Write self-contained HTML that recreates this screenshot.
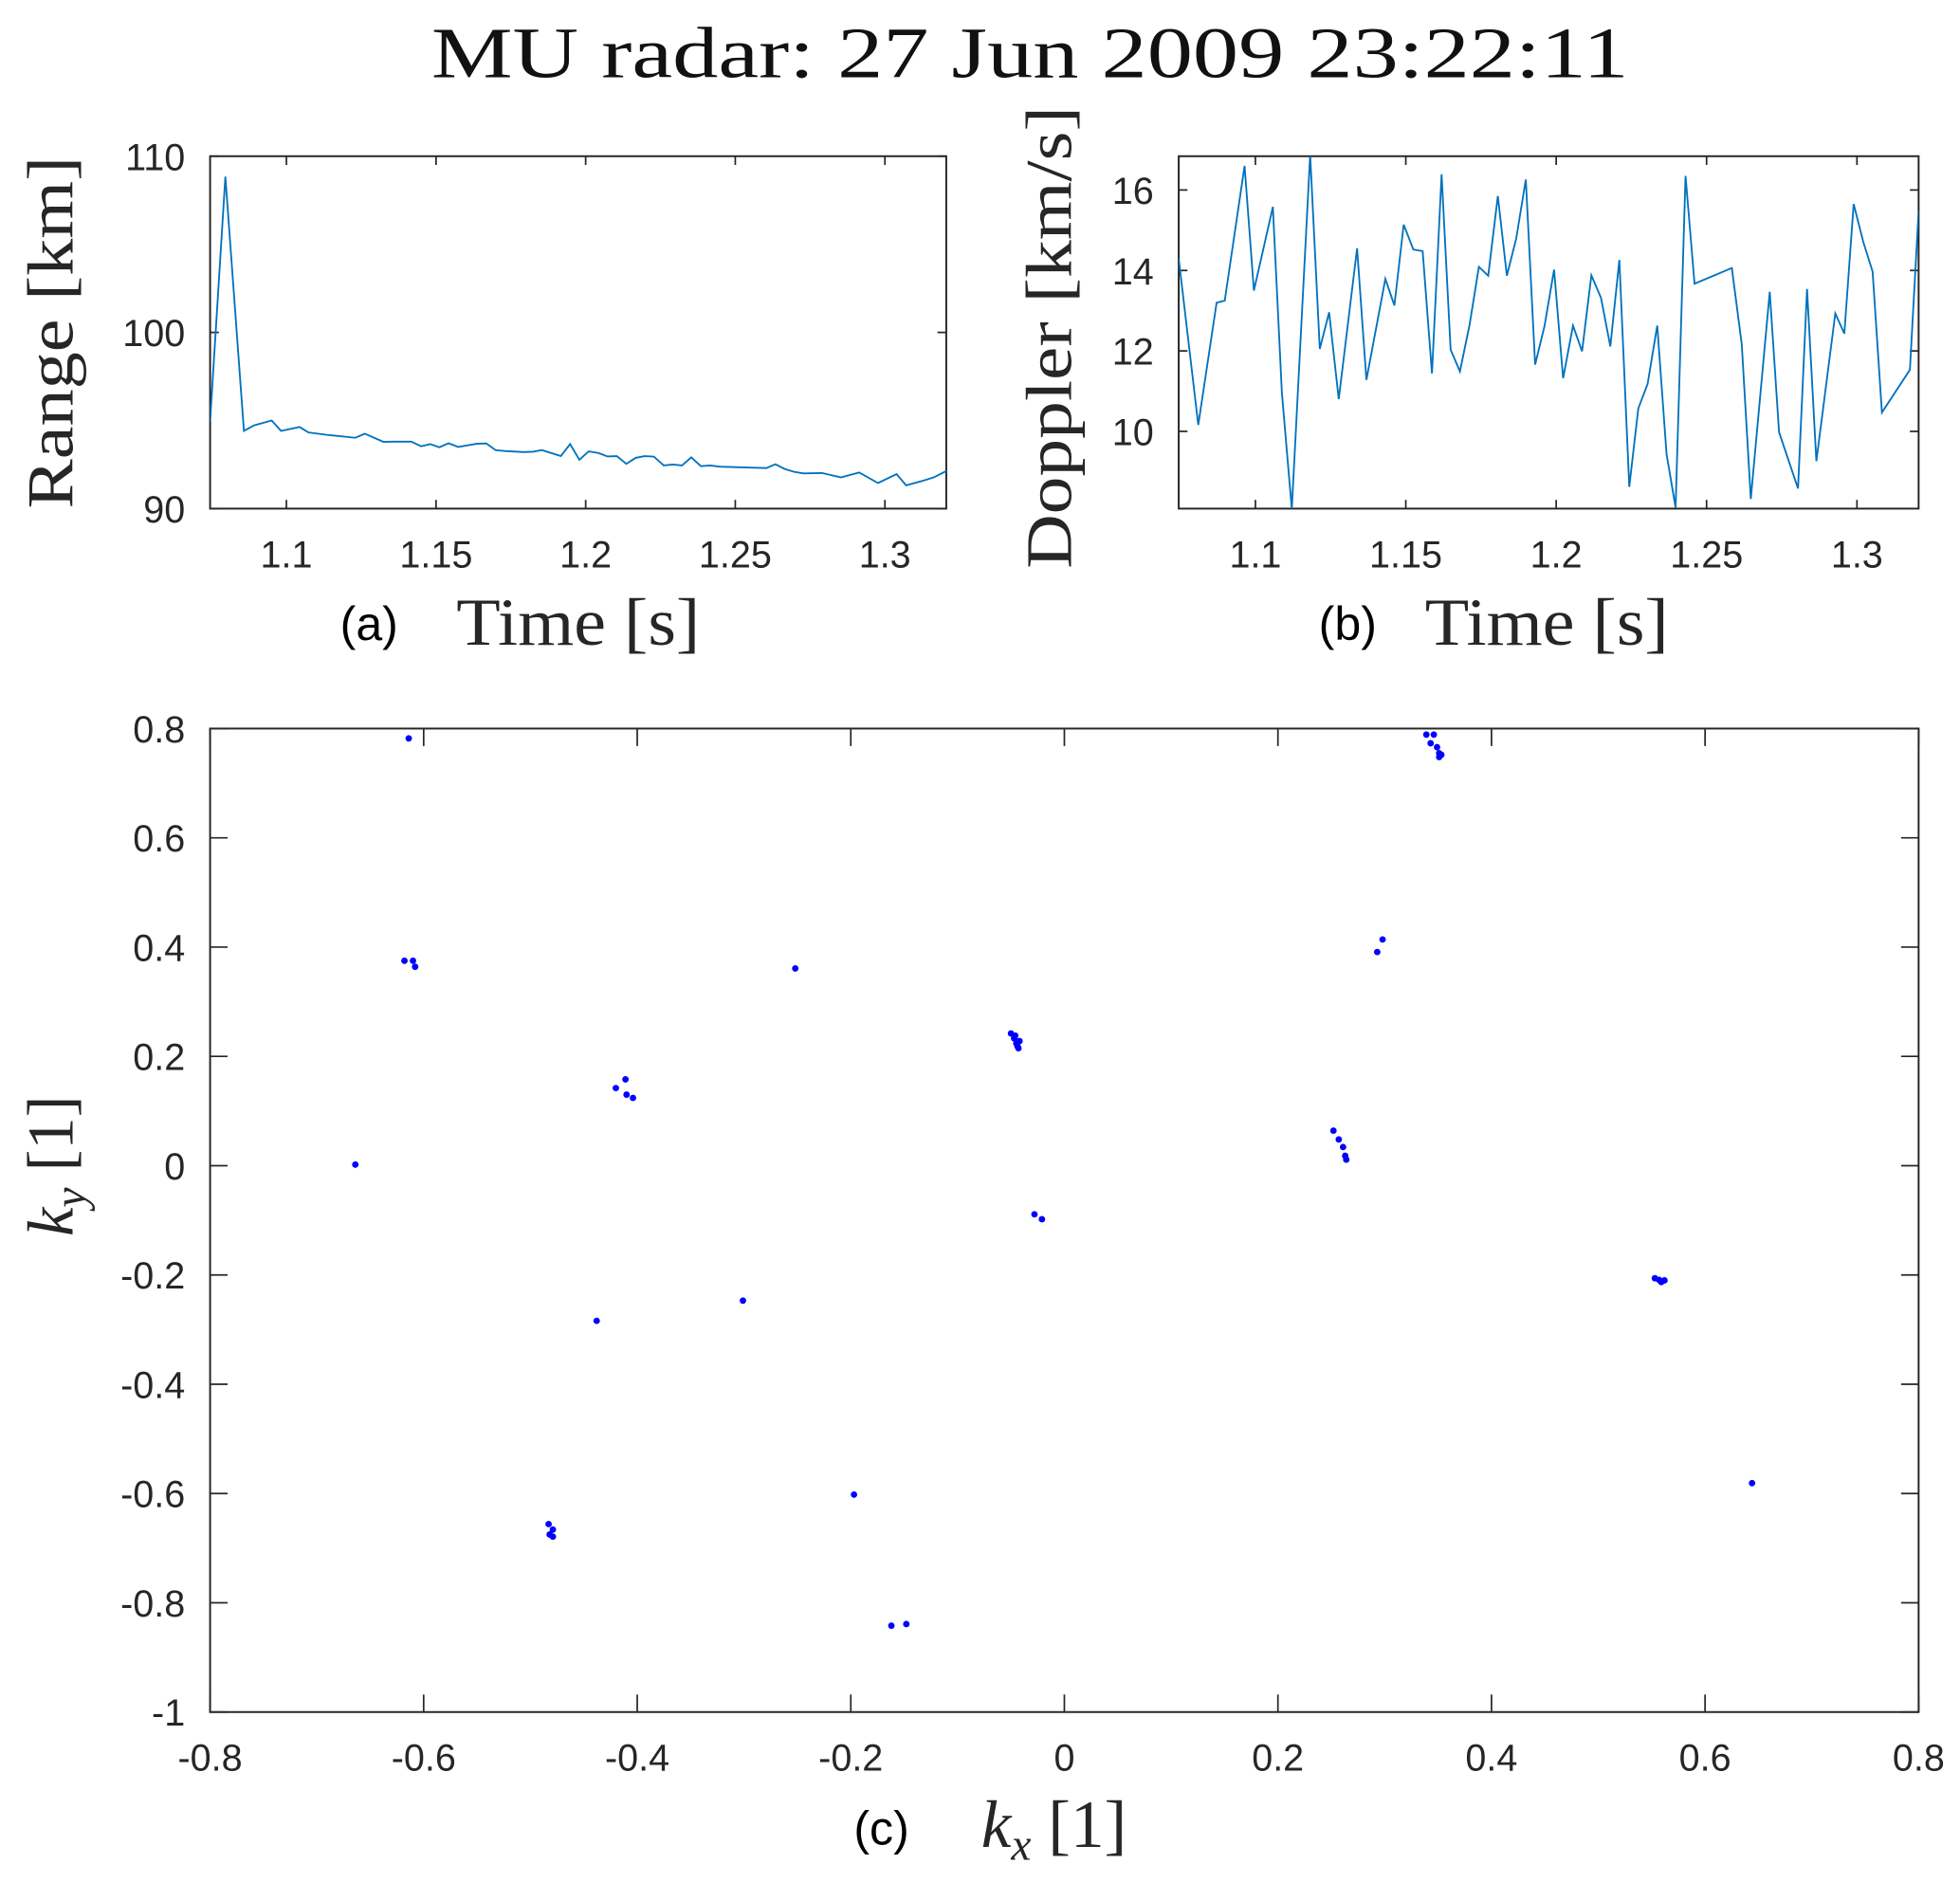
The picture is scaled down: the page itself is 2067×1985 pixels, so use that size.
<!DOCTYPE html>
<html><head><meta charset="utf-8"><style>
html,body{margin:0;padding:0;background:#fff;}
svg{display:block;}
.tk{font-family:"Liberation Sans",sans-serif;font-size:30px;fill:#262626;}
.sf{font-family:"Liberation Serif",serif;fill:#262626;}
.lb{font-family:"Liberation Sans",sans-serif;font-size:38px;fill:#000;}
</style></head><body>
<svg id="fig" width="2067" height="1985" viewBox="0 0 1568 1506" xmlns="http://www.w3.org/2000/svg">
<rect width="1568" height="1506" fill="#fff"/>
<text x="345" y="62" textLength="958" lengthAdjust="spacingAndGlyphs" class="sf" style="font-size:58px;fill:#111">MU radar: 27 Jun 2009 23:22:11</text>
<g id="gA"></g>
<g id="gB"></g>
<g id="gC"></g>
<text class="sf" style="font-size:52px" transform="translate(58,266) rotate(-90)" text-anchor="middle" textLength="282" lengthAdjust="spacingAndGlyphs">Range [km]</text>
<text class="sf" style="font-size:52px" transform="translate(857,270) rotate(-90)" text-anchor="middle" textLength="370" lengthAdjust="spacingAndGlyphs">Doppler [km/s]</text>
<text class="sf" style="font-size:52px;font-style:italic" transform="translate(58,933) rotate(-90)" text-anchor="middle">k<tspan style="font-size:36px" dy="10">y</tspan><tspan dy="-10" style="font-style:normal"> [1]</tspan></text>
<text x="272" y="512" class="lb">(a)</text>
<text x="365" y="516" class="sf" style="font-size:54px" textLength="195" lengthAdjust="spacingAndGlyphs">Time [s]</text>
<text x="1055" y="512" class="lb">(b)</text>
<text x="1140" y="516" class="sf" style="font-size:54px" textLength="195" lengthAdjust="spacingAndGlyphs">Time [s]</text>
<text x="683" y="1476" class="lb">(c)</text>
<text x="785" y="1478" class="sf" style="font-size:54px"><tspan style="font-style:italic">k</tspan><tspan style="font-size:36px;font-style:italic" dy="10">x</tspan><tspan dy="-10"> [1]</tspan></text>
</svg>
<script>
const rangeTimes=[1.0745,1.0796,1.0858,1.0892,1.0951,1.0982,1.1044,1.1074,1.1138,1.1168,1.1230,1.1262,1.1324,1.1356,1.1417,1.1450,1.1481,1.1511,1.1542,1.1574,1.1636,1.1668,1.1699,1.1730,1.1793,1.1824,1.1854,1.1917,1.1948,1.1979,1.2010,1.2042,1.2073,1.2104,1.2136,1.2167,1.2197,1.2228,1.2261,1.2291,1.2322,1.2353,1.2385,1.2416,1.2447,1.2604,1.2634,1.2665,1.2696,1.2728,1.2790,1.2853,1.2914,1.2977,1.3039,1.3071,1.3133,1.3163,1.3205];
const rangeValues=[94.96,108.84,94.41,94.73,95.0,94.41,94.63,94.32,94.18,94.13,94.02,94.25,93.79,93.80,93.80,93.54,93.66,93.48,93.71,93.50,93.68,93.70,93.32,93.27,93.21,93.23,93.32,92.98,93.66,92.77,93.25,93.16,92.96,92.98,92.54,92.88,92.98,92.95,92.45,92.50,92.45,92.91,92.41,92.45,92.38,92.30,92.52,92.25,92.09,92.00,92.02,91.77,92.05,91.45,91.96,91.32,91.61,91.77,92.13];
const dopTimes=[1.0745,1.0810,1.0871,1.0898,1.0964,1.0995,1.1058,1.1088,1.1121,1.1182,1.1214,1.1245,1.1277,1.1338,1.1369,1.1432,1.1462,1.1493,1.1525,1.1556,1.1587,1.1619,1.1649,1.1680,1.1712,1.1743,1.1774,1.1806,1.1836,1.1867,1.1899,1.1930,1.1961,1.1993,1.2023,1.2056,1.2086,1.2117,1.2149,1.2180,1.2210,1.2243,1.2273,1.2304,1.2336,1.2367,1.2397,1.2430,1.2460,1.2584,1.2617,1.2647,1.2710,1.2741,1.2804,1.2834,1.2865,1.2928,1.2958,1.2989,1.3021,1.3052,1.3083,1.3176,1.3205];
const dopValues=[14.29,10.16,13.20,13.25,16.60,13.50,15.58,10.96,8.07,16.88,12.05,12.96,10.80,14.55,11.28,13.79,13.13,15.14,14.52,14.48,11.44,16.39,12.03,11.49,12.65,14.09,13.87,15.85,13.87,14.79,16.26,11.66,12.61,14.02,11.32,12.63,11.99,13.88,13.32,12.11,14.26,8.62,10.57,11.18,12.63,9.43,8.11,16.35,13.67,14.06,12.16,8.32,13.47,9.98,8.58,13.54,9.26,12.93,12.43,15.65,14.71,13.97,10.47,11.53,15.47];
const kxValues=[-0.614,-0.618,-0.610,-0.608,-0.252,0.339,0.346,0.343,0.349,0.351,0.351,0.353,0.298,0.293,-0.050,-0.047,-0.045,-0.043,-0.044,-0.042,-0.046,-0.420,-0.411,-0.410,-0.404,-0.664,0.252,0.257,0.261,0.263,0.264,-0.028,-0.021,0.553,0.559,0.562,0.557,-0.438,-0.301,-0.483,-0.479,-0.482,-0.479,-0.197,0.644,-0.162,-0.148];
const kyValues=[0.782,0.375,0.375,0.364,0.361,0.789,0.789,0.773,0.766,0.755,0.748,0.752,0.414,0.391,0.242,0.233,0.224,0.215,0.219,0.228,0.238,0.142,0.158,0.130,0.124,0.002,0.064,0.048,0.034,0.018,0.011,-0.089,-0.098,-0.206,-0.213,-0.210,-0.209,-0.284,-0.247,-0.656,-0.666,-0.675,-0.679,-0.602,-0.581,-0.842,-0.839];
const timeTicks=[1.1,1.15,1.2,1.25,1.3];
const timeTickLabels=["1.1","1.15","1.2","1.25","1.3"];
const rangeTicks=[90,100,110];
const dopTicks=[10,12,14,16];
const kxTicks=[-0.8,-0.6,-0.4,-0.2,0,0.2,0.4,0.6,0.8];
const kyTicks=[-1,-0.8,-0.6,-0.4,-0.2,0,0.2,0.4,0.6,0.8];

const NS="http://www.w3.org/2000/svg";
function mk(tag,attrs,parent){const e=document.createElementNS(NS,tag);for(const k in attrs)e.setAttribute(k,attrs[k]);parent.appendChild(e);return e;}
function panel(g,id,L,T,R,B,x0,x1,y0,y1,xt,xl,yt,yl,tl){
  const sx=v=>L+(v-x0)/(x1-x0)*(R-L);
  const sy=v=>B-(v-y0)/(y1-y0)*(B-T);
  const cp=mk('clipPath',{id:id},g);mk('rect',{x:L,y:T,width:R-L,height:B-T},cp);
  xt.forEach((v,i)=>{const x=sx(v);
    const t1=mk('line',{x1:x,x2:x,y1:B,y2:B-tl,stroke:'#262626','stroke-width':1.3},g);
    
    
    mk('line',{x1:x,x2:x,y1:T,y2:T+tl,stroke:'#262626','stroke-width':1.3},g);
    const tx=mk('text',{x:x,y:B+47,'text-anchor':'middle','class':'tk'},g);tx.textContent=xl[i];
    
    });
  yt.forEach((v,i)=>{const y=sy(v);
    const t1=mk('line',{x1:L,x2:L+tl,y1:y,y2:y,stroke:'#262626','stroke-width':1.3},g);
    
    
    mk('line',{x1:R,x2:R-tl,y1:y,y2:y,stroke:'#262626','stroke-width':1.3},g);
    const tx=mk('text',{x:L-20,y:y+11,'text-anchor':'end','class':'tk'},g);tx.textContent=yl[i];
    
    });
  const box=mk('rect',{x:L,y:T,width:R-L,height:B-T,fill:'none',stroke:'#262626','stroke-width':1.5},g);
  
  
  return {sx,sy};
}
function line(g,clip,sc,xs,ys,name){
  const d=xs.map((t,i)=>(i?'L':'M')+sc.sx(t).toFixed(2)+','+sc.sy(ys[i]).toFixed(2)).join('');
  const p=mk('path',{d:d,fill:'none',stroke:'#0072bd','stroke-width':1.4,'clip-path':'url(#'+clip+')'},g);
  
  
}
const gA=document.getElementById('gA'),gB=document.getElementById('gB'),gC=document.getElementById('gC');
const sA=panel(gA,'cA',168,125,757,407,1.0745,1.3205,90,110,timeTicks,timeTickLabels,rangeTicks,rangeTicks.map(String),7);
line(gA,'cA',sA,rangeTimes,rangeValues,'range-line');
const sB=panel(gB,'cB',943,125,1535,407,1.0745,1.3205,8.08,16.84,timeTicks,timeTickLabels,dopTicks,dopTicks.map(String),7);
line(gB,'cB',sB,dopTimes,dopValues,'doppler-line');
const sC=panel(gC,'cC',168,583,1535,1370,-0.8,0.8,-1,0.8,kxTicks,kxTicks.map(String),kyTicks,kyTicks.map(String),14);
kxValues.forEach((v,i)=>{
  const c=mk('circle',{cx:sC.sx(v).toFixed(2),cy:sC.sy(kyValues[i]).toFixed(2),r:2.6,fill:'#0000ff'},gC);
  
  
});
</script>
</body></html>
